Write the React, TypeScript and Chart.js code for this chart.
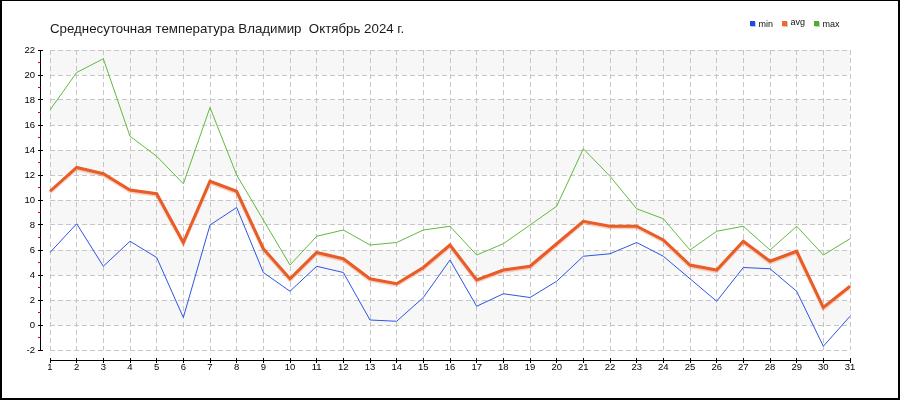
import React, { useEffect, useRef } from "react";
import { Chart, registerables } from "chart.js";

Chart.register(...registerables);

const titleText = "Среднесуточная температура Владимир  Октябрь 2024 г.";

const days = [
  "1", "2", "3", "4", "5", "6", "7", "8", "9", "10",
  "11", "12", "13", "14", "15", "16", "17", "18", "19", "20",
  "21", "22", "23", "24", "25", "26", "27", "28", "29", "30", "31",
];

const minTemps = [
  5.8, 8.1, 4.7, 6.7, 5.4, 0.6, 8.0, 9.4, 4.2, 2.7,
  4.7, 4.2, 0.4, 0.3, 2.2, 5.2, 1.5, 2.5, 2.2, 3.5,
  5.5, 5.7, 6.6, 5.5, 3.7, 1.9, 4.6, 4.5, 2.7, -1.7, 0.7,
];

const avgTemps = [
  10.7, 12.6, 12.1, 10.8, 10.5, 6.6, 11.5, 10.7, 6.1, 3.7,
  5.8, 5.3, 3.7, 3.3, 4.6, 6.4, 3.6, 4.4, 4.7, 6.5,
  8.3, 7.9, 7.9, 6.8, 4.8, 4.4, 6.7, 5.1, 5.9, 1.4, 3.1,
];

const maxTemps = [
  17.2, 20.2, 21.3, 15.1, 13.5, 11.3, 17.4, 12.0, 8.4, 4.8,
  7.1, 7.6, 6.4, 6.6, 7.6, 7.9, 5.6, 6.5, 8.0, 9.5,
  14.1, 11.9, 9.3, 8.5, 6.0, 7.5, 7.9, 6.0, 7.9, 5.6, 6.9,
];

const seriesNames = ["min", "avg", "max"];
const seriesColors = ["#2f55e4", "#e85c26", "#62b940"];
const legendColors = ["#1f48ea", "#f0662e", "#4caf2a"];

const yMin = -2;
const yMax = 22;
const yStep = 2;

const FONT = "'Liberation Sans', Arial, sans-serif";

const decorPlugin = {
  id: "decor",
  beforeDraw(chart: any) {
    const ctx = chart.ctx;
    const { left, right } = chart.chartArea;
    const ys = chart.scales.y;
    ctx.save();
    ctx.fillStyle = "#ffffff";
    ctx.fillRect(0, 0, chart.width, chart.height);
    const vals = ys.ticks.map((t: any) => t.value).sort((a: number, b: number) => b - a);
    ctx.fillStyle = "#f7f7f7";
    for (let i = 0; i < vals.length - 1; i += 2) {
      const y1 = ys.getPixelForValue(vals[i]);
      const y2 = ys.getPixelForValue(vals[i + 1]);
      ctx.fillRect(left, y1, right - left, y2 - y1);
    }
    ctx.restore();
  },
  beforeDatasetDraw(chart: any, args: any) {
    const ctx = chart.ctx;
    ctx.save();
    if (args.index === 1) {
      ctx.shadowColor = "rgba(235, 110, 70, 0.35)";
      ctx.shadowOffsetX = 0;
      ctx.shadowOffsetY = 1.5;
      ctx.shadowBlur = 1;
    }
  },
  afterDatasetDraw(chart: any) {
    chart.ctx.restore();
  },
  afterDraw(chart: any) {
    const ctx = chart.ctx;
    const xs = chart.scales.x;
    const ys = chart.scales.y;
    const { left, right, bottom } = chart.chartArea;
    ctx.save();

    // Y axis line
    const ax = Math.floor(left - 10) + 0.5;
    const yTop = Math.floor(ys.getPixelForValue(yMax));
    const yBot = Math.floor(ys.getPixelForValue(yMin)) + 1;
    ctx.strokeStyle = "#000";
    ctx.lineWidth = 1;
    ctx.beginPath();
    ctx.moveTo(ax, yTop);
    ctx.lineTo(ax, yBot);
    for (const t of ys.ticks) {
      const py = Math.floor(ys.getPixelForValue(t.value)) + 0.5;
      ctx.moveTo(ax - 2.5, py);
      ctx.lineTo(ax + 2.5, py);
    }
    ctx.stroke();

    // minor red ticks
    ctx.strokeStyle = "#e00000";
    ctx.beginPath();
    for (let v = yMin + yStep / 2; v < yMax; v += yStep) {
      const py = Math.floor(ys.getPixelForValue(v)) + 0.5;
      ctx.moveTo(ax - 2.5, py);
      ctx.lineTo(ax, py);
    }
    ctx.stroke();

    // X axis line
    const axY = Math.floor(bottom + 10) + 0.5;
    ctx.strokeStyle = "#000";
    ctx.beginPath();
    ctx.moveTo(Math.floor(left), axY);
    ctx.lineTo(Math.floor(right) + 1, axY);
    for (let i = 0; i < days.length; i++) {
      const px = Math.floor(xs.getPixelForValue(i)) + 0.5;
      ctx.moveTo(px, axY - 2.5);
      ctx.lineTo(px, axY + 2.5);
    }
    ctx.stroke();

    // Title
    ctx.fillStyle = "#1a1a1a";
    ctx.font = `13.3px ${FONT}`;
    ctx.textAlign = "left";
    ctx.textBaseline = "alphabetic";
    ctx.fillText(titleText, left, 33);

    // Legend
    ctx.font = `9px ${FONT}`;
    const legendX = [750, 782, 814];
    for (let i = 0; i < seriesNames.length; i++) {
      const lx = legendX[i];
      ctx.fillStyle = "#c8c8c8";
      ctx.fillRect(lx + 1, 22, 5, 5);
      ctx.fillStyle = legendColors[i];
      ctx.fillRect(lx, 21, 5, 5);
      ctx.fillStyle = "#111";
      ctx.fillText(seriesNames[i], lx + 8.5, i === 1 ? 24.5 : 26.5);
    }

    // Frame
    ctx.fillStyle = "#000";
    ctx.fillRect(0, 0, chart.width, 1);
    ctx.fillRect(0, 0, 2, chart.height);
    ctx.fillRect(chart.width - 2, 0, 2, chart.height);
    ctx.fillRect(0, chart.height - 2, chart.width, 2);

    ctx.restore();
  },
};

export default function App() {
  const canvasRef = useRef<HTMLCanvasElement | null>(null);

  useEffect(() => {
    if (!canvasRef.current) return;
    const gridOpts = { color: "#c6c6c6", lineWidth: 1, drawTicks: false };
    const chart = new Chart(canvasRef.current, {
      type: "line",
      data: {
        labels: days,
        datasets: [
          {
            label: seriesNames[0],
            data: minTemps,
            borderColor: seriesColors[0],
            borderWidth: 1,
            pointRadius: 0,
            fill: false,
          },
          {
            label: seriesNames[1],
            data: avgTemps,
            borderColor: seriesColors[1],
            borderWidth: 3,
            pointRadius: 0,
            fill: false,
          },
          {
            label: seriesNames[2],
            data: maxTemps,
            borderColor: seriesColors[2],
            borderWidth: 1,
            pointRadius: 0,
            fill: false,
          },
        ],
      },
      options: {
        responsive: false,
        animation: false,
        devicePixelRatio: 1,
        layout: { padding: { top: 50, right: 50, left: 0, bottom: 0 } },
        plugins: {
          legend: { display: false },
          title: { display: false },
          tooltip: { enabled: false },
        },
        elements: { line: { tension: 0 } },
        scales: {
          x: {
            type: "category",
            offset: false,
            grid: gridOpts,
            border: { display: false, dash: [5, 3] },
            ticks: {
              autoSkip: false,
              maxRotation: 0,
              minRotation: 0,
              padding: 12,
              color: "#000",
              font: { family: FONT, size: 9.5 },
            },
            afterFit: (s: any) => {
              s.height = 50;
            },
          },
          y: {
            min: yMin,
            max: yMax,
            grid: gridOpts,
            border: { display: false, dash: [5, 3] },
            ticks: {
              stepSize: yStep,
              padding: 15,
              color: "#000",
              font: { family: FONT, size: 9.5 },
            },
            afterFit: (s: any) => {
              s.width = 50;
            },
          },
        },
      },
      plugins: [decorPlugin],
    } as any);
    return () => chart.destroy();
  }, []);

  return (
    <div style={{ position: "fixed", left: 0, top: 0, width: 900, height: 400 }}>
      <canvas ref={canvasRef} width={900} height={400} style={{ display: "block" }} />
    </div>
  );
}
